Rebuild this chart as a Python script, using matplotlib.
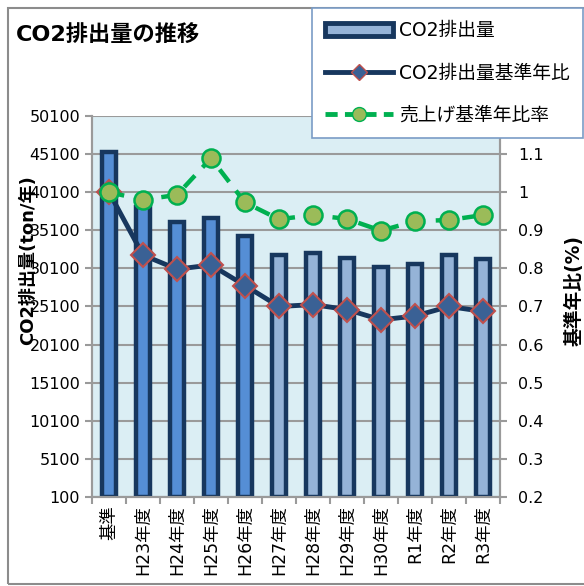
import numpy as np
import matplotlib
matplotlib.use("Agg")
from matplotlib import pyplot as plt
from matplotlib.patches import Patch, Rectangle
from matplotlib.lines import Line2D

plt.rcParams['font.family'] = ['DejaVu Sans', 'Noto Sans CJK JP']

# données
cats = ["基準", "H23年度", "H24年度", "H25年度", "H26年度", "H27年度",
        "H28年度", "H29年度", "H30年度", "R1年度", "R2年度", "R3年度"]
co2 = [45400, 38100, 36200, 36750, 34350, 31850, 32100, 31500, 30250, 30650, 31850, 31300]
co2_ratio = [1.0, 0.835, 0.798, 0.809, 0.755, 0.700, 0.705, 0.692, 0.665, 0.675, 0.700, 0.687]
sales_ratio = [1.0, 0.980, 0.993, 1.089, 0.973, 0.929, 0.940, 0.930, 0.899, 0.924, 0.927, 0.940]
left_ticks = list(range(100, 50101, 5000))
right_ticks = [0.2, 0.3, 0.4, 0.5, 0.6, 0.7, 0.8, 0.9, 1.0, 1.1]
right_labels = ["0.2", "0.3", "0.4", "0.5", "0.6", "0.7", "0.8", "0.9", "1", "1.1"]

navy = "#17375E"
fill_dark = "#558ED5"
fill_light = "#95B3D7"
green = "#00B050"
grid_c = "#9A9A9A"

fig = plt.figure(figsize=(5.84, 5.86), dpi=100)
ax1 = fig.add_axes([92/584, 1-497/586, 408/584, 381/586])
ax2 = ax1.twinx()

x = np.arange(len(cats))
couleurs = [fill_dark if i < 5 else fill_light for i in range(len(cats))]

ax1.set_facecolor("#DBEEF4")
ax1.bar(x, [v-100 for v in co2], bottom=100, width=0.42, color=couleurs,
        edgecolor=navy, linewidth=3.2, zorder=3)
ax1.set_ylim(100, 50100)
ax1.set_yticks(left_ticks)
ax1.set_xlim(-0.5, len(cats)-0.5)
ax1.set_xticks(x)
ax1.set_xticklabels(cats, rotation=90, fontsize=12.5)
ax1.set_xticks(np.arange(-0.5, len(cats), 1), minor=True)
ax1.tick_params(axis='x', which='major', length=0, pad=6)
ax1.tick_params(axis='x', which='minor', length=5, color=grid_c, width=1.5)
ax1.tick_params(axis='y', length=5, color=grid_c, width=1.5, labelsize=11.5)
ax1.yaxis.grid(True, color=grid_c, linewidth=1.5, zorder=0)
ax1.set_axisbelow(True)
ax1.set_ylabel("CO2排出量(ton/年)", fontsize=13, fontweight='bold', va='center')
ax1.yaxis.set_label_coords(-0.157, 0.623)

ax2.plot(x, co2_ratio, color=navy, linewidth=3.5, marker='D', markersize=12,
         markerfacecolor="#3A6195", markeredgecolor="#C0504D", markeredgewidth=1.5, zorder=4)
ax2.plot(x, sales_ratio, color=green, linewidth=3.2, dashes=(3.5, 2.5), marker='o',
         markersize=13, markerfacecolor="#9BBB59", markeredgecolor=green,
         markeredgewidth=1.8, zorder=5)
ax2.set_ylim(0.2, 1.2)
ax2.set_yticks(right_ticks)
ax2.set_yticklabels(right_labels)
ax2.tick_params(axis='y', length=5, color=grid_c, width=1.5, labelsize=11.5, pad=8)
ax2.set_ylabel("基準年比(%)", fontsize=13.5, fontweight='bold', rotation=90, va='center')
ax2.yaxis.set_label_coords(1.181, 0.543)

for a in (ax1, ax2):
    a.spines['top'].set_visible(False)
    for s in ('left', 'right', 'bottom'):
        a.spines[s].set_color(grid_c)
        a.spines[s].set_linewidth(1.5)

fig.text(16/584, 1-35/586, "CO2排出量の推移", fontsize=16, fontweight='bold', va='center')

# cadre du graphique
fig.patches.append(Rectangle((8/584, 2/586), 1.0, 576/586, transform=fig.transFigure,
                             fill=False, edgecolor="#8C8C8C", linewidth=1.5, zorder=0))

handles = [
    Patch(facecolor=fill_light, edgecolor=navy, linewidth=3.5),
    Line2D([], [], color=navy, linewidth=3.5, marker='D', markersize=8,
           markerfacecolor="#3A6195", markeredgecolor="#C0504D"),
    Line2D([], [], color=green, linewidth=3.5, dashes=(2.5, 1.5), marker='o', markersize=10,
           markerfacecolor="#9BBB59", markeredgecolor=green),
]
labels = ["CO2排出量", "CO2排出量基準年比", "売上げ基準年比率"]
leg = fig.legend(handles, labels, loc='upper left', bbox_to_anchor=(312/584, 1-8/586),
                 fontsize=13.5, frameon=True, fancybox=False, handlelength=3.6,
                 handleheight=0.75, labelspacing=1.25, borderpad=0.7, handletextpad=0.35,
                 borderaxespad=0, framealpha=1)
leg.get_frame().set_edgecolor("#7A9CC6")
leg.get_frame().set_linewidth(1.2)

fig.savefig("out.png", dpi=100)
